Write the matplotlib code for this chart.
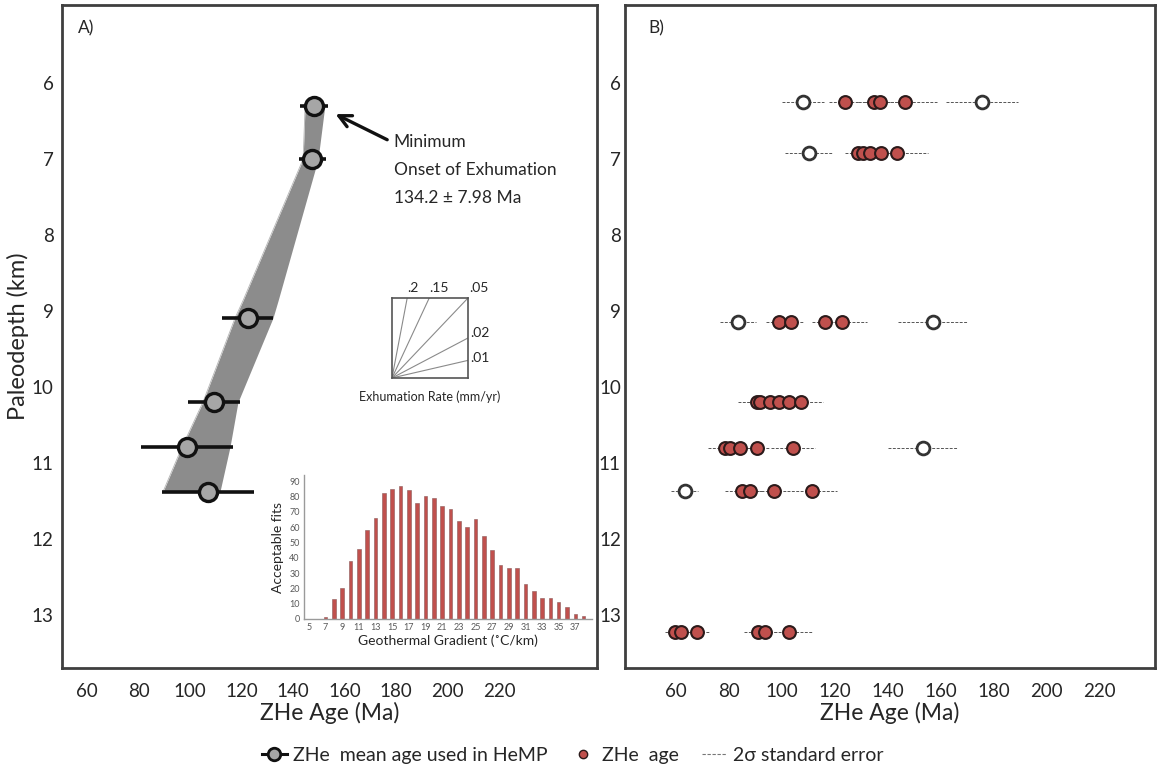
import matplotlib
matplotlib.use("Agg")
import matplotlib.pyplot as plt
from matplotlib.lines import Line2D
import numpy as np

plt.rcParams['font.family'] = ['Lato', 'DejaVu Sans']

# ---------------- Panel A data ----------------
a_depth = [6.30, 7.00, 9.09, 10.20, 10.79, 11.38]
a_age = [148.2, 147.4, 122.5, 109.3, 98.8, 107.0]
a_err = [5.4, 5.2, 9.9, 10.1, 18.0, 18.0]

# envelope of accepted HeMP fits (depth, left age, right age)
env_depth = [6.28, 7.00, 8.86, 9.09, 10.20, 10.79, 11.38]
env_left = [144.7, 143.9, 120.6, 117.5, 105.0, 96.9, 89.5]
env_right = [152.4, 149.7, 134.2, 132.2, 118.6, 115.5, 111.6]

# Histogram inset
grad = list(range(7, 39))
fits = [1, 13, 20, 38, 46, 58, 66, 82, 85, 87, 84, 76, 80, 79, 74, 72,
        64, 60, 65, 54, 45, 35, 33, 33, 23, 18, 14, 14, 11, 8, 3, 2]
grad_ticks = list(range(5, 38, 2))
fit_ticks = list(range(0, 91, 10))

# Exhumation-rate key
rate_labels = ['.2', '.15', '.05', '.02', '.01']
rate_end_x = [0.2, 0.49, 1.0, 1.0, 1.0]
rate_end_y = [1.0, 1.0, 1.0, 0.5, 0.22]

# ---------------- Panel B data ----------------
b_depth = [6.25] * 6 + [6.92] * 6 + [9.14] * 6 + [10.2] * 6 + [10.8] * 6 + [11.37] * 5 + [13.22] * 6
b_age = [107.9, 123.8, 134.7, 137.0, 146.4, 175.5,
         110.2, 128.7, 130.6, 133.2, 137.4, 143.4,
         83.4, 98.9, 103.4, 116.2, 122.6, 157.0,
         90.6, 91.7, 95.5, 98.9, 102.6, 107.2,
         78.5, 80.4, 84.2, 90.6, 104.2, 153.2,
         63.4, 84.9, 87.9, 97.0, 111.3,
         59.6, 61.9, 67.9, 90.9, 93.6, 102.6]
b_err = [8.0, 6.0, 6.0, 6.0, 12.0, 13.6,
         9.0, 5.0, 5.0, 5.0, 5.0, 11.7,
         6.8, 5.0, 5.0, 5.0, 9.5, 13.2,
         7.2, 5.0, 5.0, 5.0, 5.0, 8.3,
         6.4, 4.0, 4.0, 5.0, 8.3, 13.0,
         5.1, 6.4, 5.0, 5.0, 9.5,
         3.8, 3.0, 4.9, 5.2, 5.0, 9.1]
b_open = [1, 0, 0, 0, 0, 1,
          1, 0, 0, 0, 0, 0,
          1, 0, 0, 0, 0, 1,
          0, 0, 0, 0, 0, 0,
          0, 0, 0, 0, 0, 1,
          1, 0, 0, 0, 0,
          0, 0, 0, 0, 0, 0]

age_ticks = [60, 80, 100, 120, 140, 160, 180, 200, 220]
depth_ticks = [6, 7, 8, 9, 10, 11, 12, 13]

RED = '#c0504d'
SPINE = '#3f3f3f'
TXT = '#262626'

fig = plt.figure(figsize=(11.57, 7.72), dpi=100)

axA = fig.add_axes([0.0536, 0.1347, 0.4624, 0.8588])
axB = fig.add_axes([0.5402, 0.1347, 0.4580, 0.8588])

for ax in (axA, axB):
    ax.set_ylim(13.70, 4.97)
    ax.set_yticks(depth_ticks)
    ax.set_xticks(age_ticks)
    ax.tick_params(length=0, labelsize=13.5, labelcolor=TXT)
    ax.tick_params(axis='x', pad=11)
    for s in ax.spines.values():
        s.set_color(SPINE)
        s.set_linewidth(2)
    ax.set_xlabel('ZHe Age (Ma)', fontsize=16.5, color=TXT, labelpad=1)

axA.set_xlim(50.3, 258)
axB.set_xlim(40.8, 240.8)
axA.tick_params(axis='y', pad=6)
axB.tick_params(axis='y', pad=3)
axA.set_ylabel('Paleodepth (km)', fontsize=17, color=TXT, labelpad=2)

# ---- Panel A ----
axA.fill_betweenx(env_depth, env_left, env_right, color='#8c8c8c', lw=0, zorder=1)
axA.plot(env_left, env_depth, color='#b5b5b5', lw=0.6, zorder=1.5)
axA.errorbar(a_age, a_depth, xerr=a_err, fmt='o', color='black', ecolor='#111111',
             elinewidth=2.6, capsize=0, ms=13, mfc='#a6a6a6', mec='#111111', mew=2.4, zorder=3)
axA.text(0.03, 0.977, 'A)', transform=axA.transAxes, fontsize=12.5, color=TXT, va='top')

axA.annotate('', xy=(155.5, 6.39), xytext=(177.5, 6.76),
             arrowprops=dict(arrowstyle='->', color='#111111', lw=2.4, mutation_scale=22))
axA.text(179.0, 6.78, 'Minimum', fontsize=12.5, color=TXT, va='center')
axA.text(179.0, 7.14, 'Onset of Exhumation', fontsize=12.5, color=TXT, va='center')
axA.text(179.0, 7.51, '134.2 ± 7.98 Ma', fontsize=12.5, color=TXT, va='center')

# exhumation-rate key
axK = fig.add_axes([0.3388, 0.5104, 0.0657, 0.1036])
axK.set_xlim(0, 1)
axK.set_ylim(0, 1)
axK.set_xticks([])
axK.set_yticks([])
for s in axK.spines.values():
    s.set_color('#555555')
    s.set_linewidth(1.2)
for ex, ey in zip(rate_end_x, rate_end_y):
    axK.plot([0, ex], [0, ey], color='#8a8a8a', lw=0.8)
lab_pos = [(0.27, 1.12), (0.62, 1.12), (1.14, 1.12), (1.16, 0.56), (1.16, 0.25)]
for lab, (lx, ly) in zip(rate_labels, lab_pos):
    axK.text(lx, ly, lab, fontsize=10, color=TXT, ha='center', va='center', clip_on=False)
axK.text(0.5, -0.24, 'Exhumation Rate (mm/yr)', fontsize=9, color=TXT, ha='center',
         va='center', clip_on=False)

# histogram inset
axH = fig.add_axes([0.2627, 0.1982, 0.2490, 0.1865])
axH.bar(grad, fits, width=0.42, color=RED, edgecolor='#8a5a5a', linewidth=0.4)
axH.set_xlim(4.4, 39)
axH.set_ylim(0, 94)
axH.set_xticks(grad_ticks)
axH.set_yticks(fit_ticks)
axH.tick_params(length=0, labelsize=6.5, labelcolor='#595959', pad=3)
axH.patch.set_alpha(0)
for side in ('top', 'right'):
    axH.spines[side].set_visible(False)
for side in ('left', 'bottom'):
    axH.spines[side].set_color('#9a9a9a')
    axH.spines[side].set_linewidth(1)
axH.set_ylabel('Acceptable fits', fontsize=10, color=TXT, labelpad=4)
axH.set_xlabel('Geothermal Gradient (˚C/km)', fontsize=10, color=TXT, labelpad=2)

# ---- Panel B ----
b_age_a = np.array(b_age)
b_err_a = np.array(b_err)
b_depth_a = np.array(b_depth)
b_open_a = np.array(b_open, dtype=bool)
axB.hlines(b_depth_a, b_age_a - b_err_a, b_age_a + b_err_a, colors='#555555',
           linestyles=(0, (3, 1.5)), linewidth=0.7, zorder=1)
axB.scatter(b_age_a[~b_open_a], b_depth_a[~b_open_a], s=85, c=RED, edgecolors='#2b1a1a',
            linewidths=1.5, zorder=3)
axB.scatter(b_age_a[b_open_a], b_depth_a[b_open_a], s=85, c='white', edgecolors='#333333',
            linewidths=2.0, zorder=3)
axB.text(0.045, 0.977, 'B)', transform=axB.transAxes, fontsize=12.5, color=TXT, va='top')

# legend
h1 = Line2D([], [], color='#111111', lw=2.2, marker='o', ms=9, mfc='#a6a6a6', mec='#111111', mew=2)
h2 = Line2D([], [], color='none', marker='o', ms=6, mfc=RED, mec='#2b1a1a', mew=1)
h3 = Line2D([], [], color='#777777', lw=0.8, ls=(0, (3, 1.5)))
fig.legend([h1, h2, h3], ['ZHe  mean age used in HeMP', 'ZHe  age', '2σ standard error'],
           loc='center', bbox_to_anchor=(0.495, 0.022), ncol=3, frameon=False,
           fontsize=14, handlelength=1.3, handletextpad=0.3, columnspacing=1.2,
           labelcolor=TXT)

fig.savefig('out.png', dpi=100, facecolor='white')
